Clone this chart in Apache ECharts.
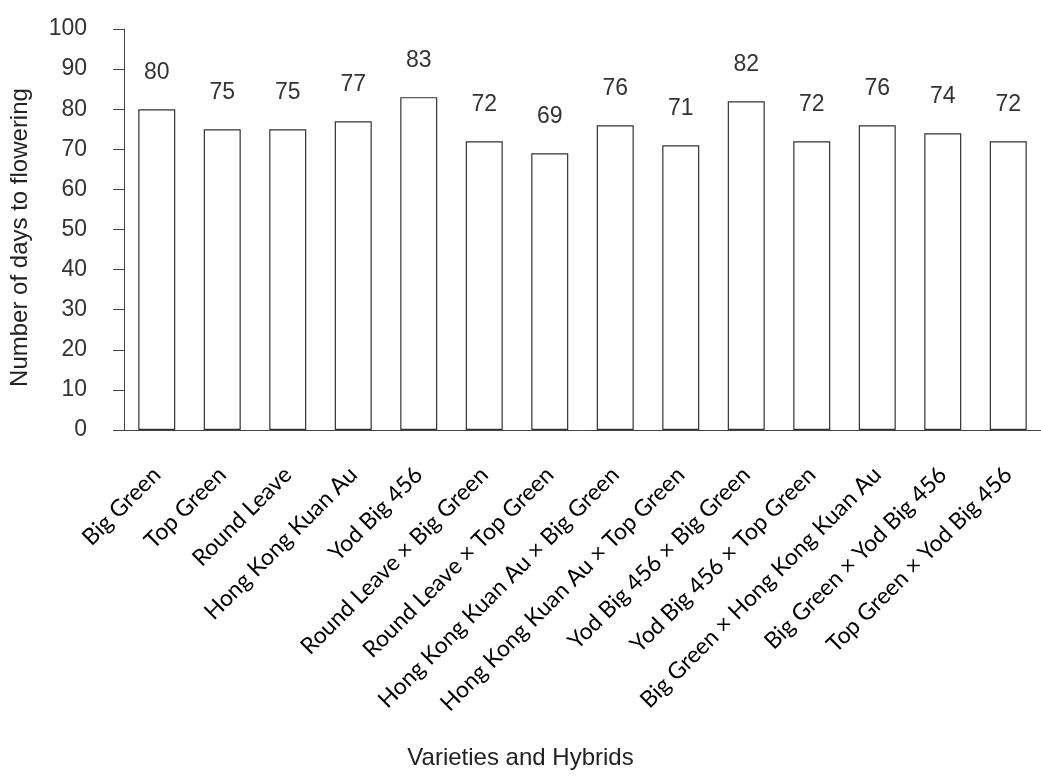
<!DOCTYPE html>
<html>
<head>
<meta charset="utf-8">
<script src="https://cdn.jsdelivr.net/npm/echarts@6/dist/echarts.min.js"></script>
<style>
html,body{margin:0;padding:0;background:#fff;}
#chart{width:1041px;height:776px;}
</style>
</head>
<body>
<div id="chart"></div>
<script>
const categories = [
  "Big Green", "Top Green", "Round Leave", "Hong Kong Kuan Au", "Yod Big 456",
  "Round Leave × Big Green", "Round Leave × Top Green", "Hong Kong Kuan Au × Big Green",
  "Hong Kong Kuan Au × Top Green", "Yod Big 456 × Big Green", "Yod Big 456 × Top Green",
  "Big Green × Hong Kong Kuan Au", "Big Green × Yod Big 456", "Top Green × Yod Big 456"
];
const daysToFlowering = [80, 75, 75, 77, 83, 72, 69, 76, 71, 82, 72, 76, 74, 72];
const yTicks = { min: 0, max: 100, interval: 10 };
const yAxisTitle = "Number of days to flowering";
const xAxisTitle = "Varieties and Hybrids";

const chart = echarts.init(document.getElementById('chart'));
chart.setOption({
  animation: false,
  backgroundColor: '#fff',
  title: {
    text: xAxisTitle,
    left: 'center',
    top: 746,
    padding: 0,
    textStyle: { fontFamily: 'Liberation Sans', fontSize: 24, fontWeight: 'normal', color: '#222' }
  },
  grid: { left: 124, right: -13, top: 29, bottom: 346, containLabel: false },
  xAxis: {
    type: 'category',
    data: categories,
    axisLine: { lineStyle: { color: '#444', width: 1 } },
    axisTick: { show: false },
    axisLabel: {
      interval: 0,
      rotate: 45,
      margin: 41,
      fontFamily: 'Lato',
      fontSize: 23,
      color: '#000'
    }
  },
  yAxis: {
    type: 'value',
    min: yTicks.min,
    max: yTicks.max,
    interval: yTicks.interval,
    name: yAxisTitle,
    nameLocation: 'middle',
    nameGap: 92,
    nameTextStyle: { fontFamily: 'Liberation Sans', fontSize: 24, color: '#222', padding: [0, 16, 0, 0] },
    splitLine: { show: false },
    axisLine: { show: true, lineStyle: { color: '#444', width: 1 } },
    axisTick: { show: true, length: 11, lineStyle: { color: '#444' } },
    axisLabel: { margin: 37, fontFamily: 'Liberation Sans', fontSize: 23, color: '#333' }
  },
  series: [{
    type: 'bar',
    data: daysToFlowering,
    barWidth: 37,
    itemStyle: { color: '#fff', borderColor: '#333', borderWidth: 1.2 },
    label: {
      show: true,
      position: 'top',
      distance: 25,
      fontFamily: 'Liberation Sans',
      fontSize: 23,
      color: '#333'
    }
  }]
});
</script>
</body>
</html>
